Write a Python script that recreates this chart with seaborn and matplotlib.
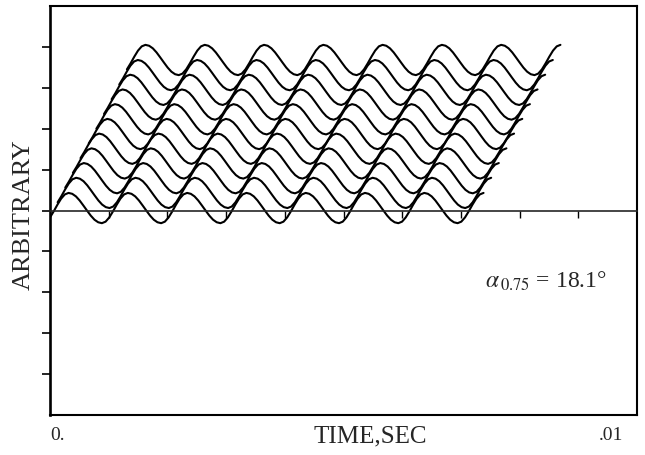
import numpy as np
import pandas as pd
import matplotlib
matplotlib.use('Agg')
import matplotlib.pyplot as plt
import matplotlib.transforms as mtransforms
import seaborn as sns

# ------- Data ----------------------------------------
# one cycle of the trace waveform (relative amplitude), starting at the crest;
# the fall to the trough is slower than the rise back to the crest
WAVE_CYCLE = [1.00, 0.94, 0.77, 0.50, 0.17, -0.17, -0.50, -0.77,
              -0.94, -1.00, -0.90, -0.62, -0.22, 0.22, 0.62, 0.90]
CYCLE_SEC = 0.00101          # period of the waveform
ONSET_INDEX = 11             # each trace starts 5 samples before a crest
TRACE_SAMPLES = 118          # samples drawn per trace (~7.3 cycles)
AMPLITUDE = 0.37

# per trace: start time (sec) and vertical level (arbitrary units)
TRACE_START = [0.00000, 0.00013, 0.00026, 0.00039, 0.00052, 0.00066,
               0.00079, 0.00092, 0.00105, 0.00118, 0.00131]
TRACE_LEVEL = [0.06, 0.43, 0.79, 1.15, 1.51, 1.87,
               2.23, 2.59, 2.95, 3.31, 3.68]

X_TICK_LABELS = ['0.', '.01']
ANNOTATION = r'$\alpha_{\,0.75}$ = 18.1°'

# ------- Build long table -------------------
dt = CYCLE_SEC / len(WAVE_CYCLE)
shape = np.tile(WAVE_CYCLE, 10)[ONSET_INDEX:ONSET_INDEX + TRACE_SAMPLES]
rows = []
for k, (t0, lev) in enumerate(zip(TRACE_START, TRACE_LEVEL)):
    for i, s in enumerate(shape):
        rows.append((k, t0 + i * dt, lev + AMPLITUDE * s))
df = pd.DataFrame(rows, columns=['trace', 'time', 'amp'])

# ------- Style -------------------
sns.set_style('ticks')
plt.rcParams['font.family'] = ['Liberation Serif', 'DejaVu Serif']
plt.rcParams['mathtext.fontset'] = 'stix'

fig = plt.figure(figsize=(6.45, 4.55), dpi=100)
ax = fig.add_axes([50 / 645, 1 - 415 / 455, 587 / 645, 409 / 455])

sns.lineplot(data=df, x='time', y='amp', units='trace', estimator=None,
             sort=False, color='black', linewidth=1.5, legend=False, ax=ax)

ax.set_xlim(0, 0.01)
ax.set_ylim(-5, 5)

for sp in ax.spines.values():
    sp.set_visible(True)
    sp.set_linewidth(1.5)
    sp.set_color('black')
ax.spines['left'].set_linewidth(1.9)

ax.set_yticks(np.arange(-4, 5))
ax.set_yticklabels([])
ax.tick_params(axis='y', direction='out', length=6, width=1.2, color='black')

ax.set_xticks([0, 0.01])
ax.set_xticklabels(X_TICK_LABELS, fontsize=14)
ax.tick_params(axis='x', length=0, pad=9)
lbls = ax.get_xticklabels()
lbls[0].set_ha('left')
lbls[1].set_ha('right')
lbls[1].set_transform(lbls[1].get_transform() +
                      mtransforms.ScaledTranslation(-14 / 100, 0, fig.dpi_scale_trans))

ax.set_xlabel('TIME,SEC', fontsize=18)
ax.xaxis.set_label_coords((370 - 50) / 587, -0.026)
ax.set_ylabel('ARBITRARY', fontsize=19)
ax.yaxis.set_label_coords(-0.026, 0.491)

# zero line with its own time ticks
ax2 = ax.twiny()
ax2.set_xlim(0, 0.01)
for name, sp in ax2.spines.items():
    sp.set_visible(name == 'bottom')
ax2.spines['bottom'].set_position(('data', 0))
ax2.spines['bottom'].set_linewidth(1.2)
ax2.xaxis.set_ticks_position('bottom')
ax2.set_xticks(np.arange(1, 10) * 0.001)
ax2.set_xticklabels([])
ax2.tick_params(axis='x', direction='out', length=5, width=1.0, color='black')

ax.text((485 - 50) / 587, (415 - 288) / 409, ANNOTATION, transform=ax.transAxes,
        fontsize=17, va='baseline', ha='left')

plt.savefig('out.png', dpi=100)
plt.close()
print("Saved out.png")
